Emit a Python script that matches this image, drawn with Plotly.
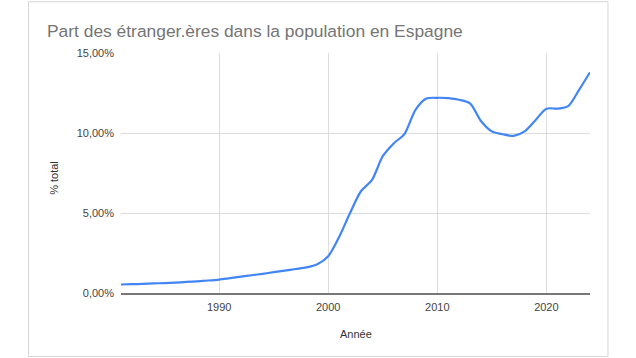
import plotly.graph_objects as go

years = list(range(1981, 2025))
share_pct = [0.53, 0.55, 0.57, 0.60, 0.62, 0.65, 0.69, 0.73, 0.78, 0.84,
             0.93, 1.02, 1.11, 1.20, 1.30, 1.40, 1.50, 1.60, 1.80, 2.30,
             3.50, 5.00, 6.36, 7.05, 8.55, 9.35, 9.95, 11.45, 12.15, 12.20,
             12.18, 12.08, 11.85, 10.75, 10.10, 9.92, 9.82, 10.10, 10.80, 11.52,
             11.52, 11.68, 12.70, 13.80]

x_ticks = [1990, 2000, 2010, 2020]
y_ticks = [0, 5, 10, 15]
y_tick_labels = ["0,00%", "5,00%", "10,00%", "15,00%"]

title = "Part des étranger.ères dans la population en Espagne"
x_title = "Année"
y_title = "% total"

W, H = 636, 358
L, R, T, B = 120.5, 46.3, 53.3, 64.5
pw, ph = W - L - R, H - T - B

def px(xp):
    return (xp - L) / pw

def py(yp):
    return (H - B - yp) / ph

FONT = "Liberation Sans, Arial, sans-serif"

fig = go.Figure()
fig.add_trace(go.Scatter(
    x=years, y=share_pct, mode="lines",
    line=dict(color="#4285f4", width=2.2, shape="spline", smoothing=0.8),
    hoverinfo="x+y", showlegend=False,
))

fig.update_layout(
    width=W, height=H,
    margin=dict(l=L, r=R, t=T, b=B),
    paper_bgcolor="white", plot_bgcolor="white",
    font=dict(family=FONT, size=11, color="#444444"),
    title=dict(text=title, x=47 / W, xanchor="left", xref="container",
               y=1 - 31 / H, yanchor="middle", yref="container",
               font=dict(family=FONT, size=17.4, color="#757575")),
    xaxis=dict(range=[1981, 2024], tickvals=x_ticks, showgrid=True,
               gridcolor="#dddddd", gridwidth=1, zeroline=False,
               showline=True, linecolor="#777777", linewidth=1.5,
               ticks="", ticklabelstandoff=3,
               tickfont=dict(size=11, color="#444444")),
    yaxis=dict(range=[0, 15], tickvals=y_ticks, ticktext=y_tick_labels,
               showgrid=True, gridcolor="#dddddd", gridwidth=1,
               zeroline=False, showline=False, ticks="",
               ticklabelstandoff=6,
               tickfont=dict(size=11, color="#444444")),
    shapes=[dict(type="rect", xref="paper", yref="paper",
                 x0=px(28), x1=px(607.7), y0=py(357), y1=py(2),
                 line=dict(color="#d6d6d6", width=1), layer="below")],
    annotations=[
        dict(text=x_title, xref="paper", yref="paper", x=0.5, y=py(335),
             xanchor="center", yanchor="middle", showarrow=False,
             font=dict(size=11, color="#333333")),
        dict(text=y_title, xref="paper", yref="paper", x=px(52.7), y=py(178),
             xanchor="center", yanchor="middle", showarrow=False, textangle=-90,
             font=dict(size=11, color="#333333")),
    ],
)

fig.write_html("out.html", config={"displayModeBar": False},
               post_script="document.body.style.margin='0';document.body.style.overflow='hidden';")
